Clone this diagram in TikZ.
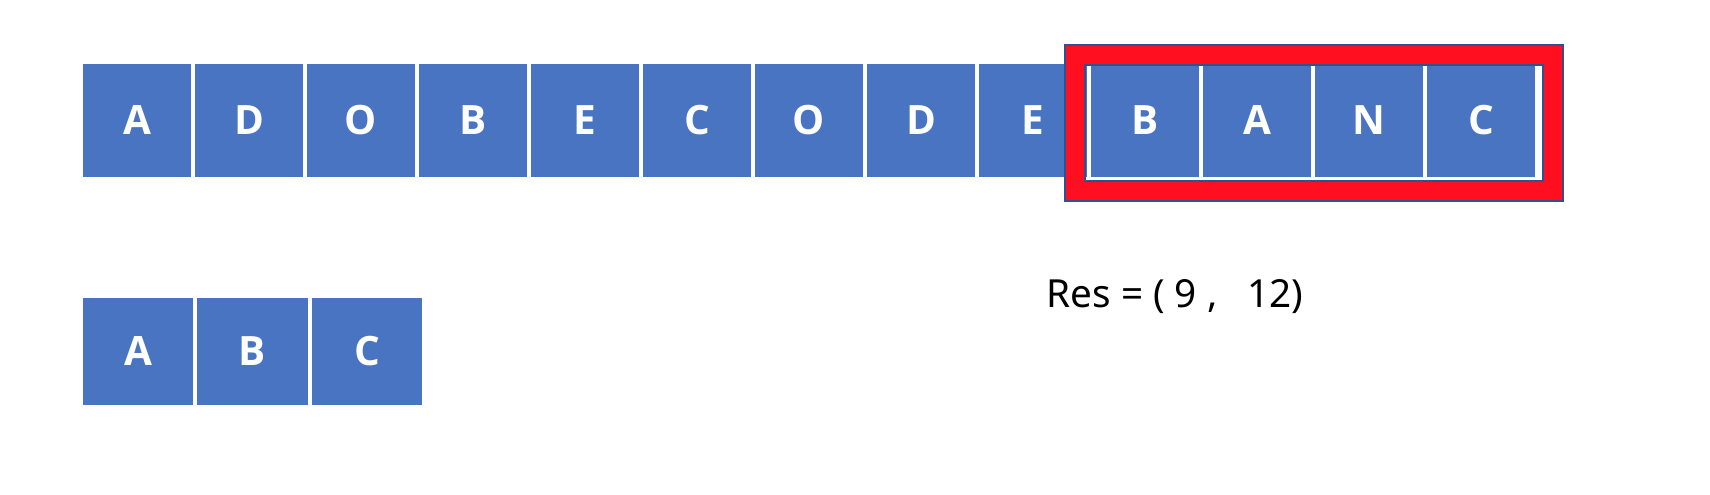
\documentclass[tikz,border=0pt]{standalone}
\usepackage{fontspec}
\setmainfont{Noto Sans}
\newfontfamily\cellfont{Open Sans}[BoldFont={Open Sans Bold}]
\usetikzlibrary{calc}
\definecolor{cellblue}{HTML}{4874C1}
\definecolor{framered}{HTML}{FF0F1F}
\definecolor{edgeblue}{HTML}{2F528F}

\begin{document}
\begin{tikzpicture}[x=0.01cm, y=0.01cm,
    cell/.style={fill=cellblue, draw=white, line width=0.4pt, text=white,
      font=\cellfont\bfseries\fontsize{11.5}{14}\selectfont, inner sep=0pt},
    topcell/.style={cell, minimum width=1.10cm, minimum height=1.15cm},
    subcell/.style={cell, minimum width=1.12cm, minimum height=1.09cm},
    window/.style={draw=edgeblue, line width=0.6pt, double=framered, double distance=0.18cm}]
    \useasboundingbox (0,0) rectangle (1710,494);
    \foreach \l [count=\i from 0] in {A,D,O,B,E,C,O,D,E,B,A,N,C}
      \node[topcell] (t\i) at (137+112*\i, 373.5) {\l};
    \foreach \l [count=\i from 0] in {A,B,C}
      \node[subcell] (s\i) at (138+114.5*\i, 142.5) {\l};
    \draw[window] ($(t9.north west)+(-14,7)$) rectangle ($(t12.south east)+(16,-12)$);
    \node[font=\fontsize{11}{13}\selectfont] (res) at (1175, 197) {Res = ( 9 ,~~ 12)};
\end{tikzpicture}
\end{document}
